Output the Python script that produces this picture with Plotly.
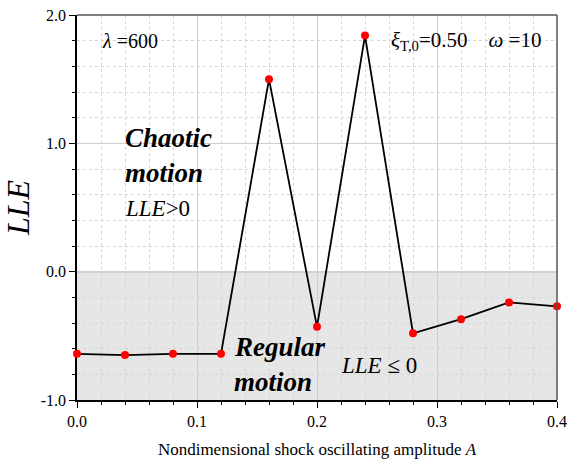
import plotly.graph_objects as go

amplitude = [0.0, 0.04, 0.08, 0.12, 0.16, 0.20, 0.24, 0.28, 0.32, 0.36, 0.40]
lle = [-0.64, -0.65, -0.64, -0.64, 1.50, -0.43, 1.84, -0.48, -0.37, -0.24, -0.27]

FONT = "Liberation Serif, Times New Roman, serif"

fig = go.Figure()

fig.add_shape(type="rect", xref="x", yref="y", x0=0, x1=0.4, y0=-1.0, y1=0.0,
              fillcolor="#e6e6e6", line_width=0, layer="below")

fig.add_trace(go.Scatter(
    x=amplitude, y=lle, mode="lines+markers",
    line=dict(color="black", width=1.8),
    marker=dict(color="red", size=8),
    showlegend=False, cliponaxis=False, hoverinfo="skip"))

fig.add_shape(type="line", xref="x", yref="y", x0=0, x1=0.4, y0=0, y1=0,
              line=dict(color="#999999", width=1.2), layer="below")

axis_common = dict(
    showline=True, linecolor="black", linewidth=1.5, mirror=False,
    ticks="outside", ticklen=6, tickwidth=1.2, tickcolor="black",
    showgrid=True, gridcolor="#cfcfcf", gridwidth=1.2,
    zeroline=False, automargin=False, layer="below traces",
    tickfont=dict(family=FONT, size=16, color="black"),
)

fig.update_xaxes(
    range=[0, 0.4], tickvals=[0, 0.1, 0.2, 0.3, 0.4], ticktext=["0.0", "0.1", "0.2", "0.3", "0.4"],
    minor=dict(dtick=0.02, tick0=0, showgrid=True, gridcolor="#d6d6d6", griddash="dot", gridwidth=1,
               ticks="outside", ticklen=3, tickcolor="black"),
    title=dict(text="Nondimensional shock oscillating amplitude <i>A</i>",
               font=dict(family=FONT, size=17, color="black"), standoff=14),
    **axis_common)
fig.update_yaxes(
    range=[-1.0, 2.0], tickvals=[-1, 0, 1, 2], ticktext=["-1.0", "0.0", "1.0", "2.0"],
    minor=dict(dtick=0.2, tick0=0, showgrid=True, gridcolor="#d6d6d6", griddash="dot", gridwidth=1,
               ticks="outside", ticklen=3, tickcolor="black"),
    title=dict(text="<i>LLE</i>", font=dict(family=FONT, size=32, color="black"),
               standoff=16),
    **axis_common)

# top and right frame
fig.add_shape(type="line", xref="paper", yref="paper", x0=0, x1=1, y0=1, y1=1,
              line=dict(color="#555555", width=1.5))
fig.add_shape(type="line", xref="paper", yref="paper", x0=1, x1=1, y0=0, y1=1,
              line=dict(color="#555555", width=1.5))

ann = [
    dict(x=0.019, y=1.80, text="<i>λ</i> =600", size=20, xanchor="left"),
    dict(x=0.388, y=1.80, text="<i>ξ</i><sub>T,0</sub>=0.50&nbsp;&nbsp;&nbsp;&nbsp;<i>ω</i> =10", size=21, xanchor="right"),
    dict(x=0.038, y=1.04, text="<b><i>Chaotic</i></b>", size=27, xanchor="left"),
    dict(x=0.038, y=0.77, text="<b><i>motion</i></b>", size=27, xanchor="left"),
    dict(x=0.038, y=0.49, text="<i>LLE</i>&gt;0", size=23, xanchor="left"),
    dict(x=0.129, y=-0.59, text="<b><i>Regular</i></b>", size=27, xanchor="left"),
    dict(x=0.129, y=-0.86, text="<b><i>motion</i></b>", size=27, xanchor="left"),
    dict(x=0.218, y=-0.73, text="<i>LLE</i> ≤ 0", size=23, xanchor="left"),
]
for a in ann:
    fig.add_annotation(x=a["x"], y=a["y"], xref="x", yref="y", text=a["text"],
                       showarrow=False, xanchor=a["xanchor"], yanchor="middle",
                       font=dict(family=FONT, size=a["size"], color="black"))

fig.update_layout(
    width=568, height=464,
    margin=dict(l=77, r=11, t=15, b=64),
    paper_bgcolor="white", plot_bgcolor="white",
    font=dict(family=FONT, color="black"),
)

fig.write_html("out.html", config={"displayModeBar": False},
               post_script="document.body.style.margin='0';document.body.style.overflow='hidden';")
